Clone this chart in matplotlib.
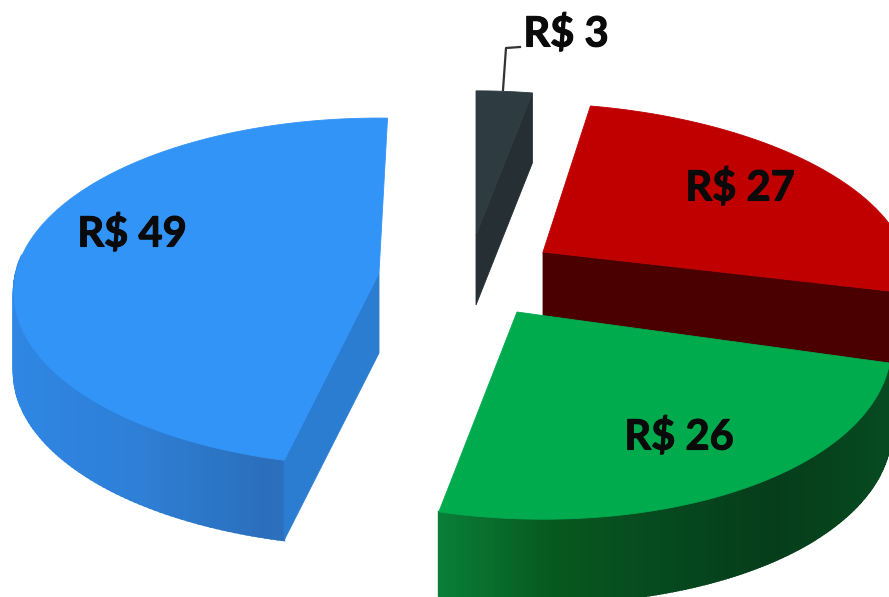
import numpy as np
import matplotlib
matplotlib.use('Agg')
import matplotlib.pyplot as plt
import matplotlib.patheffects as pe
from matplotlib.colors import LinearSegmentedColormap

# Slice values, in drawing order (back to front)
labels = ['R$ 49', 'R$ 3', 'R$ 27', 'R$ 26']
values = [49, 3, 27, 26]

# Exploded position and shape of each slice, in pixels
centers = [(379, 273), (476, 235), (543, 252), (517, 312)]
radii_x = [363, 350, 365, 372]
radii_y = [172, 160, 165, 184]
depths = [80, 70, 76, 84]
rotation = [-0.5, 1, 3, 2.2]
tilt = [0, 0, 0.026, 0.035]
top_colors = ['#3394f8', '#2e3b40', '#c00000', '#00ab4e']
side_stops = [
    ['#2f86e4', '#2e7fd6', '#2b6fbc', '#2a72c2'],
    ['#2a3438', '#2a3438'],
    ['#4a0000', '#4a0000'],
    ['#0a7f39', '#07591f', '#06491f', '#053d1a', '#074a21'],
]
cut_colors = ['#2b7dd2', '#262f33', '#4a0000', None]
label_pos = [(132, 234), (566, 34), (740, 188), (679, 437)]

PERSPECTIVE = 0.11
START_ANGLE = 89.0

plt.rcParams['font.family'] = ['Lato', 'DejaVu Sans']
fig = plt.figure(figsize=(8.89, 5.97), dpi=100)
ax = fig.add_axes([0, 0, 1, 1])
ax.set_xlim(0, 889)
ax.set_ylim(597, 0)
ax.axis('off')


def rim(i, angles):
    # Points on the rim of slice i, foreshortened towards the back
    t = np.radians(angles)
    u, v = np.cos(t), np.sin(t)
    s = 1 / (1 + PERSPECTIVE * v)
    x = radii_x[i] * u * s
    y = -radii_y[i] * v * s + tilt[i] * radii_x[i] * u * s
    return centers[i][0] + x, centers[i][1] + y


total = sum(values)
sweeps = np.array(values) / total * 360
# The blue slice runs counterclockwise from the start angle, the others clockwise
spans = [(START_ANGLE + sweeps[0], START_ANGLE)]
a = START_ANGLE
for sw in sweeps[1:]:
    spans.append((a - sw, a))
    a -= sw

for i in range(len(values)):
    lo, hi = spans[i][0] + rotation[i], spans[i][1] + rotation[i]
    angles = np.linspace(lo, hi, 180)
    x, y = rim(i, angles)
    cx, cy = centers[i]
    d = depths[i]
    cmap = LinearSegmentedColormap.from_list('side', side_stops[i])

    # Outer wall, shaded from left to right; the far side of the rim stays hidden
    xmin, xmax = x.min(), x.max()
    for k in range(len(x) - 1):
        if np.sin(np.radians(angles[k])) > 0.1:
            continue
        c = cmap((0.5 * (x[k] + x[k + 1]) - xmin) / (xmax - xmin))
        ax.fill([x[k], x[k + 1], x[k + 1], x[k]],
                [y[k], y[k + 1], y[k + 1] + d, y[k] + d],
                color=c, lw=1.5, zorder=i * 3 + 1)

    # Flat cut wall facing the viewer, on the edge at the first rim point
    if cut_colors[i] is not None:
        ax.fill([cx, x[0], x[0], cx], [cy, y[0], y[0] + d, cy + d],
                color=cut_colors[i], lw=0.6, zorder=i * 3 + 2)

    # Top face
    ax.fill(np.r_[cx, x], np.r_[cy, y], color=top_colors[i], lw=0.6, zorder=i * 3 + 3)

    ax.text(label_pos[i][0], label_pos[i][1], labels[i], ha='center', va='center',
            fontsize=30, fontweight='bold', color='#0a0a0a', zorder=30,
            path_effects=[pe.withStroke(linewidth=0.8, foreground='#0a0a0a')])

# Leader line for the small slice
ax.plot([503, 506, 520], [90, 48, 47], color='#333333', lw=1.6, zorder=20)

fig.savefig('out.png', dpi=100, facecolor='white')
